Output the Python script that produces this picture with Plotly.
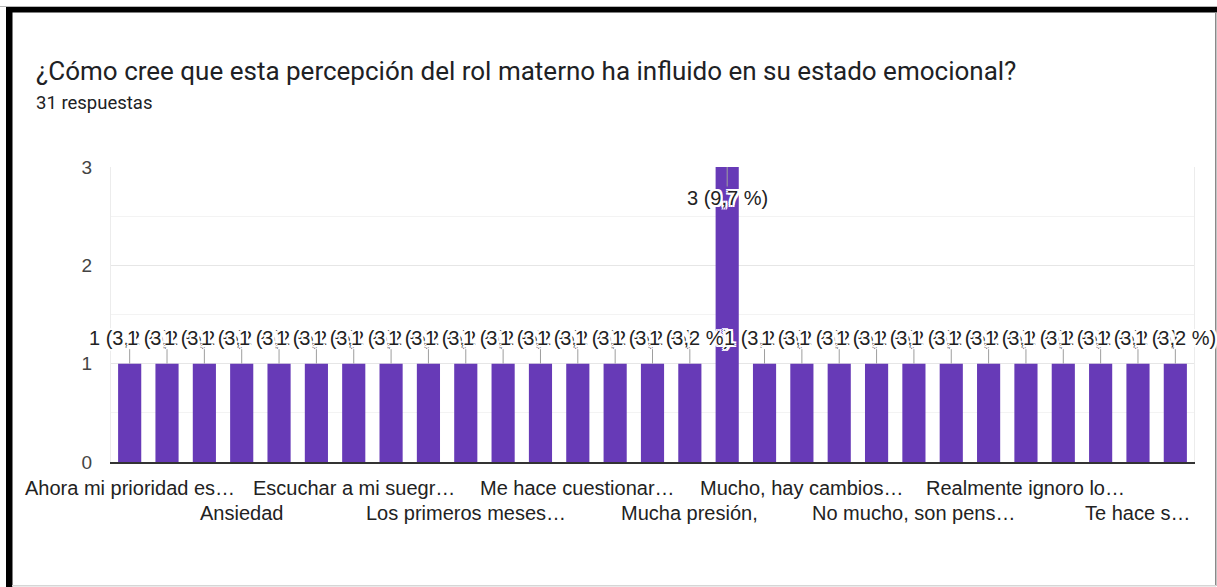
import plotly.graph_objects as go

# responses to the question, sorted alphabetically as Google Forms does
categories = [
    "Ahora mi prioridad es mi bebé",
    "Ahora soy más paciente",
    "Angustia",
    "Ansiedad",
    "Bien",
    "Cansancio",
    "Escuchar a mi suegra me hace dudar",
    "Estrés",
    "Frustración",
    "Los primeros meses fueron difíciles",
    "Me ha afectado",
    "Me ha hecho más fuerte",
    "Me hace cuestionarme como madre",
    "Me siento culpable",
    "Me siento insuficiente",
    "Mucha presión,",
    "Mucho",
    "Mucho, a veces me siento agotada",
    "Mucho, hay cambios de humor",
    "Negativamente",
    "No ha influido",
    "No mucho, son pensamientos pasajeros",
    "Positivamente",
    "Preocupación",
    "Realmente ignoro los comentarios",
    "Regular",
    "Siento presión",
    "Te hace sentir que no eres suficiente",
    "Tristeza",
]
responses = [1, 1, 1, 1, 1, 1, 1, 1, 1, 1, 1, 1, 1, 1, 1, 1, 3,
             1, 1, 1, 1, 1, 1, 1, 1, 1, 1, 1, 1]
total_responses = 31

# visible (truncated) axis labels, one every third category
tick_labels = [
    "Ahora mi prioridad es…",
    "Ansiedad",
    "Escuchar a mi suegr…",
    "Los primeros meses…",
    "Me hace cuestionar…",
    "Mucha presión,",
    "Mucho, hay cambios…",
    "No mucho, son pens…",
    "Realmente ignoro lo…",
    "Te hace s…",
]
tick_categories = categories[::3]

PURPLE = "#673ab7"
TEXT = "#222222"
FONT = "Liberation Sans, Arial, sans-serif"
HALO = ", ".join(f"{dx}px {dy}px 0 #fff" for dx in (-2, 0, 2) for dy in (-2, 0, 2) if dx or dy)

W, H = 1217, 587
L, R, T, B = 111, 23, 167, 125
PW, PH = W - L - R, H - T - B


def px(x):
    return (x - L) / PW


def py(y):
    return (H - B - y) / PH


fig = go.Figure(
    go.Bar(
        x=categories,
        y=responses,
        marker_color=PURPLE,
        marker_line_width=0,
        width=0.62,
        hoverinfo="x+y",
    )
)

annotations = []
for cat, v in zip(categories, responses):
    label = f"{v} ({v / total_responses * 100:.1f} %)".replace(".", ",")
    top = v >= 3
    annotations.append(dict(
        x=cat, y=v, xref="x", yref="y", text=label,
        showarrow=True, arrowhead=0, arrowwidth=1, arrowcolor="#9e9e9e",
        ax=0, ay=31 if top else -26, standoff=0, borderpad=0,
        font=dict(family=FONT, size=20, color=TEXT, shadow=HALO),
    ))

for i, (cat, lab) in enumerate(zip(tick_categories, tick_labels)):
    annotations.append(dict(
        x=cat, xref="x", y=py(488 if i % 2 == 0 else 513), yref="paper",
        text=lab, showarrow=False, xanchor="center", yanchor="middle",
        font=dict(family=FONT, size=20, color=TEXT),
    ))

annotations.append(dict(
    x=px(34), y=py(71), xref="paper", yref="paper", xanchor="left", yanchor="middle",
    text="¿Cómo cree que esta percepción del rol materno ha influido en su estado emocional?",
    showarrow=False, font=dict(family="Roboto, Arial, sans-serif", size=26, color="#202124"),
))
annotations.append(dict(
    x=px(34), y=py(103), xref="paper", yref="paper", xanchor="left", yanchor="middle",
    text="31 respuestas", showarrow=False,
    font=dict(family="Roboto, Arial, sans-serif", size=18.5, color="#202124"),
))

# screenshot frame
frame = [
    dict(type="rect", x0=px(0), x1=px(W), y0=py(6), y1=py(6.8), fillcolor="#9e9e9e"),
    dict(type="rect", x0=px(6), x1=px(W), y0=py(7), y1=py(12.5), fillcolor="#000000"),
    dict(type="rect", x0=px(6), x1=px(12.5), y0=py(7), y1=py(H), fillcolor="#000000"),
    dict(type="rect", x0=px(1215), x1=px(1216.5), y0=py(12), y1=py(586), fillcolor="#8a8a8a"),
    dict(type="rect", x0=px(12), x1=px(1216), y0=py(585), y1=py(586.5), fillcolor="#d6d6d6"),
]
for s in frame:
    s.update(xref="paper", yref="paper", line_width=0, layer="above")

fig.update_layout(
    width=W, height=H,
    margin=dict(l=L, r=R, t=T, b=B),
    paper_bgcolor="white", plot_bgcolor="white",
    showlegend=False, bargap=0.38,
    font=dict(family=FONT, size=20, color=TEXT),
    annotations=annotations,
    shapes=frame,
    xaxis=dict(
        range=[-0.5, len(categories) - 0.5], autorange=False,
        showticklabels=False, showgrid=False, ticks="",
        showline=True, linecolor="#333333", linewidth=1.5,
        fixedrange=True,
    ),
    yaxis=dict(
        range=[0, 3], autorange=False, dtick=1, tick0=0,
        showgrid=True, gridcolor="#e6e6e6", gridwidth=1,
        minor=dict(dtick=0.5, showgrid=True, gridcolor="#f3f3f3", gridwidth=1),
        zeroline=False, showline=True, mirror=True, linecolor="#ececec", linewidth=1,
        tickfont=dict(family=FONT, size=19, color="#444444"),
        ticklabelstandoff=14, fixedrange=True,
    ),
)

fig.write_html(
    "out.html",
    config={"displayModeBar": False},
    post_script="document.body.style.margin='0';document.body.style.overflow='hidden';",
)
